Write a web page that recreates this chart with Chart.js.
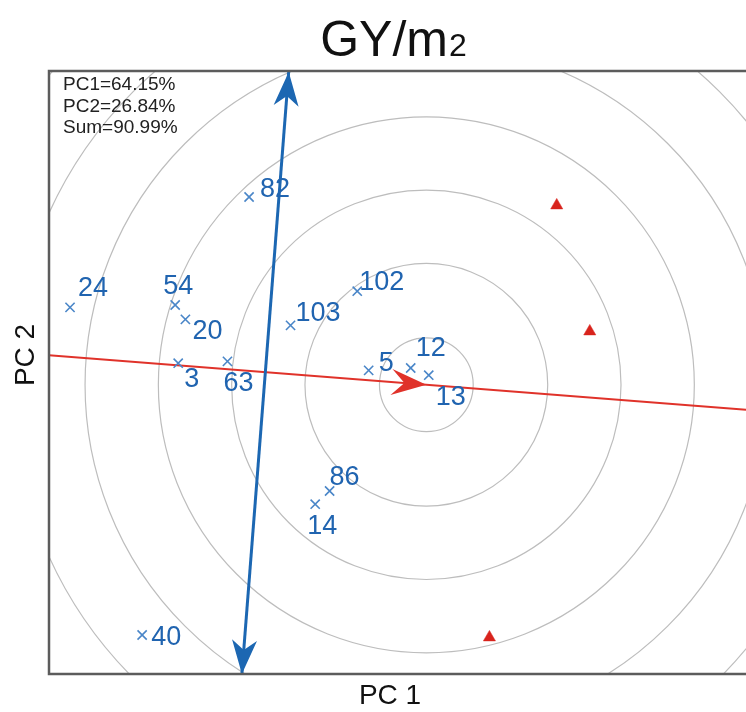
<!DOCTYPE html>
<html>
<head>
<meta charset="utf-8">
<title>GY/m2 biplot</title>
<script src="https://cdn.jsdelivr.net/npm/chart.js@4.4.1/dist/chart.umd.min.js"></script>
<style>
  html, body { margin: 0; padding: 0; background: #ffffff; overflow: hidden; }
  #wrap { width: 746px; height: 712px; }
</style>
</head>
<body>
<div id="wrap"><canvas id="biplot" width="746" height="712"></canvas></div>
<script>
// Genotype scores (PC1, PC2)
const genotypeNames = ['82', '24', '54', '20', '3', '63', '103', '102', '5', '12', '13', '86', '14', '40'];
const genotypePC1   = [-0.27, -3.25, -1.50, -1.33, -1.45, -0.63, 0.42, 1.53, 1.72, 2.42, 2.72, 1.07, 0.83, -2.05];
const genotypePC2   = [ 2.92,  1.08,  1.12,  0.88,  0.15,  0.18, 0.78, 1.35, 0.03, 0.07, -0.05, -1.98, -2.20, -4.38];

// Environment scores (PC1, PC2)
const environmentPC1 = [4.85, 5.40, 3.73];
const environmentPC2 = [2.78, 0.68, -4.42];

// Average-environment axis (abscissa) and its perpendicular through the origin
const aecAbscissaX = [-3.6, 8.0];
const aecAbscissaY = [0.281, -0.624];
const aecOrdinateX = [0.39, -0.39];
const aecOrdinateY = [5.02, -5.03];

// Ideal point on the abscissa and the concentric rings around it
const idealPoint = [2.68, -0.21];
const ringRadii = [0.78, 2.02, 3.24, 4.46, 5.68, 6.90, 8.12];

// Axis limits
const xLimits = [-3.6, 8.0];
const yLimits = [-5.03, 5.02];

const statLines = ['PC1=64.15%', 'PC2=26.84%', 'Sum=90.99%'];
const titleMain = 'GY/m';
const titleSmall = '2';
const xTitle = 'PC 1';
const yTitle = 'PC 2';

// Label placement relative to each genotype marker (px: left edge, vertical middle)
const labelOffsets = [
  [11, -7], [8, -19], [-12, -18], [7, 12], [6, 16], [-4, 22], [5, -12],
  [2, -9], [10, -7], [5, -19], [7, 22], [0, -13], [-8, 22], [9, 3]
];

const FONT = '"Liberation Sans", Arial, Helvetica, sans-serif';
const BLUE_TEXT = '#2064b0';
const BLUE_MARK = '#4a86c8';
const BLUE_LINE = '#1c67b2';
const RED = '#e0322a';

function toPoints(xs, ys) { return xs.map((v, i) => ({ x: v, y: ys[i] })); }

function arrowHead(ctx, tx, ty, ux, uy, len, half, notch, color) {
  const px = -uy, py = ux;
  ctx.beginPath();
  ctx.moveTo(tx, ty);
  ctx.lineTo(tx - ux * len + px * half, ty - uy * len + py * half);
  ctx.lineTo(tx - ux * notch, ty - uy * notch);
  ctx.lineTo(tx - ux * len - px * half, ty - uy * len - py * half);
  ctx.closePath();
  ctx.fillStyle = color;
  ctx.fill();
}

const biplotDecor = {
  id: 'biplotDecor',
  beforeDatasetsDraw(chart) {
    const { ctx, chartArea: a, scales: { x, y } } = chart;
    ctx.save();
    ctx.beginPath();
    ctx.rect(a.left, a.top, a.right - a.left, a.bottom - a.top);
    ctx.clip();
    const cx = x.getPixelForValue(idealPoint[0]);
    const cy = y.getPixelForValue(idealPoint[1]);
    const ppu = x.getPixelForValue(1) - x.getPixelForValue(0);
    ctx.strokeStyle = '#bdbdbd';
    ctx.lineWidth = 1.2;
    ringRadii.forEach(r => {
      ctx.beginPath();
      ctx.arc(cx, cy, r * ppu, 0, Math.PI * 2);
      ctx.stroke();
    });
    ctx.restore();
  },
  afterDatasetsDraw(chart) {
    const { ctx, scales: { x, y } } = chart;
    ctx.save();
    // blue arrowheads at both ends of the ordinate
    const t0 = [x.getPixelForValue(aecOrdinateX[0]), y.getPixelForValue(aecOrdinateY[0])];
    const t1 = [x.getPixelForValue(aecOrdinateX[1]), y.getPixelForValue(aecOrdinateY[1])];
    let dx = t0[0] - t1[0], dy = t0[1] - t1[1];
    const L = Math.hypot(dx, dy); dx /= L; dy /= L;
    arrowHead(ctx, t0[0], t0[1] + 1, dx, dy, 34, 12.5, 24, BLUE_LINE);
    arrowHead(ctx, t1[0], t1[1], -dx, -dy, 34, 12.5, 24, BLUE_LINE);
    // red arrowhead pointing to the ideal point along the abscissa
    const a0 = [x.getPixelForValue(aecAbscissaX[0]), y.getPixelForValue(aecAbscissaY[0])];
    const a1 = [x.getPixelForValue(aecAbscissaX[1]), y.getPixelForValue(aecAbscissaY[1])];
    let ex = a1[0] - a0[0], ey = a1[1] - a0[1];
    const M = Math.hypot(ex, ey); ex /= M; ey /= M;
    arrowHead(ctx, x.getPixelForValue(idealPoint[0]), y.getPixelForValue(idealPoint[1]), ex, ey, 35, 13, 22, RED);

    // genotype labels
    const meta = chart.getDatasetMeta(0);
    ctx.font = '27px ' + FONT;
    ctx.fillStyle = BLUE_TEXT;
    ctx.textAlign = 'left';
    ctx.textBaseline = 'middle';
    meta.data.forEach((pt, i) => {
      const off = labelOffsets[i];
      ctx.fillText(genotypeNames[i], pt.x + off[0], pt.y + off[1]);
    });
    ctx.restore();
  },
  afterDraw(chart) {
    const { ctx, chartArea: a, width } = chart;
    ctx.save();
    // frame (top, left, bottom)
    ctx.strokeStyle = '#5c5c5c';
    ctx.lineWidth = 2.5;
    ctx.beginPath();
    ctx.moveTo(width + 5, a.top);
    ctx.lineTo(a.left, a.top);
    ctx.lineTo(a.left, a.bottom);
    ctx.lineTo(width + 5, a.bottom);
    ctx.stroke();

    // variance explained
    ctx.fillStyle = '#222222';
    ctx.font = '19px ' + FONT;
    ctx.textAlign = 'left';
    ctx.textBaseline = 'middle';
    statLines.forEach((s, i) => ctx.fillText(s, 63, 85 + i * 21.5));

    // title
    ctx.fillStyle = '#111111';
    ctx.textBaseline = 'alphabetic';
    ctx.font = '50px ' + FONT;
    const w1 = ctx.measureText(titleMain).width;
    ctx.font = '32px ' + FONT;
    const w2 = ctx.measureText(titleSmall).width;
    const startX = 393 - (w1 + w2) / 2;
    ctx.font = '50px ' + FONT;
    ctx.fillText(titleMain, startX, 56);
    ctx.font = '32px ' + FONT;
    ctx.fillText(titleSmall, startX + w1 + 1, 56);

    // axis titles
    ctx.font = '28px ' + FONT;
    ctx.textAlign = 'center';
    ctx.textBaseline = 'middle';
    ctx.fillText(xTitle, 390, 696);
    ctx.translate(26, 355);
    ctx.rotate(-Math.PI / 2);
    ctx.fillText(yTitle, 0, 0);
    ctx.restore();
  }
};

new Chart(document.getElementById('biplot'), {
  type: 'scatter',
  data: {
    datasets: [
      {
        label: 'Genotypes',
        data: toPoints(genotypePC1, genotypePC2),
        pointStyle: 'crossRot',
        pointRadius: 6.5,
        pointHoverRadius: 6.5,
        borderColor: BLUE_MARK,
        pointBorderWidth: 1.6,
        order: 1
      },
      {
        label: 'Environments',
        data: toPoints(environmentPC1, environmentPC2),
        pointStyle: 'triangle',
        pointRadius: 7,
        backgroundColor: '#d8231c',
        borderColor: '#d8231c',
        pointBorderWidth: 0.5,
        order: 1
      },
      {
        type: 'line',
        label: 'Ordinate',
        data: toPoints(aecOrdinateX, aecOrdinateY),
        borderColor: BLUE_LINE,
        borderWidth: 3,
        pointRadius: 0,
        fill: false,
        order: 2
      },
      {
        type: 'line',
        label: 'Abscissa',
        data: toPoints(aecAbscissaX, aecAbscissaY),
        borderColor: RED,
        borderWidth: 2,
        pointRadius: 0,
        fill: false,
        order: 3
      }
    ]
  },
  options: {
    responsive: false,
    animation: false,
    devicePixelRatio: 1,
    layout: { autoPadding: false, padding: { left: 49, top: 71, right: 0, bottom: 38 } },
    plugins: { legend: { display: false }, tooltip: { enabled: false }, title: { display: false } },
    scales: {
      x: { type: 'linear', min: xLimits[0], max: xLimits[1], display: false },
      y: { type: 'linear', min: yLimits[0], max: yLimits[1], display: false }
    }
  },
  plugins: [biplotDecor]
});
</script>
</body>
</html>
